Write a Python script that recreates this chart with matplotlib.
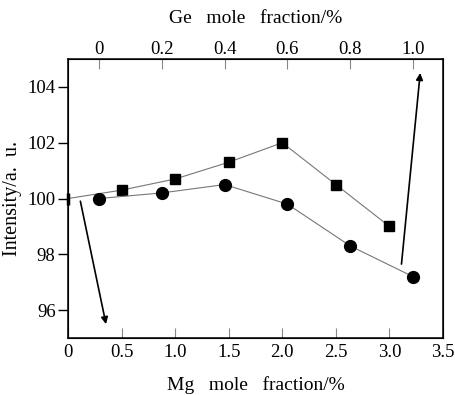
import matplotlib
matplotlib.use("Agg")
import matplotlib.pyplot as plt

plt.rcParams['font.family'] = ['Liberation Serif', 'DejaVu Serif']

# Mg-doped series (bottom axis), squares
mg_x = [0, 0.5, 1.0, 1.5, 2.0, 2.5, 3.0]
mg_y = [100.0, 100.3, 100.7, 101.3, 102.0, 100.5, 99.0]
# Ge-doped series (top axis), circles
ge_x = [0, 0.2, 0.4, 0.6, 0.8, 1.0]
ge_y = [100.0, 100.2, 100.5, 99.8, 98.3, 97.2]

mg_ticks = [0, 0.5, 1.0, 1.5, 2.0, 2.5, 3.0, 3.5]
mg_labels = ['0', '0.5', '1.0', '1.5', '2.0', '2.5', '3.0', '3.5']
ge_ticks = [0, 0.2, 0.4, 0.6, 0.8, 1.0]
ge_labels = ['0', '0.2', '0.4', '0.6', '0.8', '1.0']
y_ticks = [96, 98, 100, 102, 104]

fig = plt.figure(figsize=(4.55, 3.95), dpi=100)
ax = fig.add_axes([0.1495, 0.1443, 0.8241, 0.7063])
ax.plot(mg_x, mg_y, color='#777777', lw=0.8, marker='s', ms=6.5,
        mfc='black', mec='black', markevery=slice(1, None), zorder=3)
ax.plot(mg_x[:1], mg_y[:1], marker='|', ms=8, mew=2.5, color='black', clip_on=False, zorder=4)
ax.set_xlim(0, 3.5)
ax.set_ylim(95, 105)
ax.set_xticks(mg_ticks)
ax.set_xticklabels(mg_labels)
ax.set_yticks(y_ticks)
ax.tick_params(axis='x', direction='in', length=7, width=0.8, color='#888888', labelsize=13.5, pad=4)
ax.tick_params(axis='y', direction='out', length=7, width=1, labelsize=13.5, pad=2)
ax.set_xlabel('Mg   mole   fraction/%', fontsize=14, labelpad=11)
ax.set_ylabel('Intensity/a.  u.', fontsize=14.5, labelpad=4)
for s in ax.spines.values():
    s.set_linewidth(1.1)

ax2 = ax.twiny()
ax2.plot(ge_x, ge_y, color='#777777', lw=0.8, marker='o', ms=8.5,
         mfc='black', mec='black', zorder=3)
ax2.set_xlim(-0.0987, 1.0955)
ax2.set_xticks(ge_ticks)
ax2.set_xticklabels(ge_labels)
ax2.tick_params(axis='x', direction='in', length=7, width=0.8, color='#888888', labelsize=13.5, pad=1)
ax2.set_xlabel('Ge   mole   fraction/%', fontsize=14, labelpad=13)

# arrows pointing each series to its axis
ax.annotate('', xy=(0.36, 95.4), xytext=(0.11, 100.0),
            arrowprops=dict(arrowstyle='-|>', color='black', lw=1.2, mutation_scale=10))
ax.annotate('', xy=(3.29, 104.6), xytext=(3.11, 97.55),
            arrowprops=dict(arrowstyle='-|>', color='black', lw=1.2, mutation_scale=10))

fig.savefig('out.png', dpi=100)
